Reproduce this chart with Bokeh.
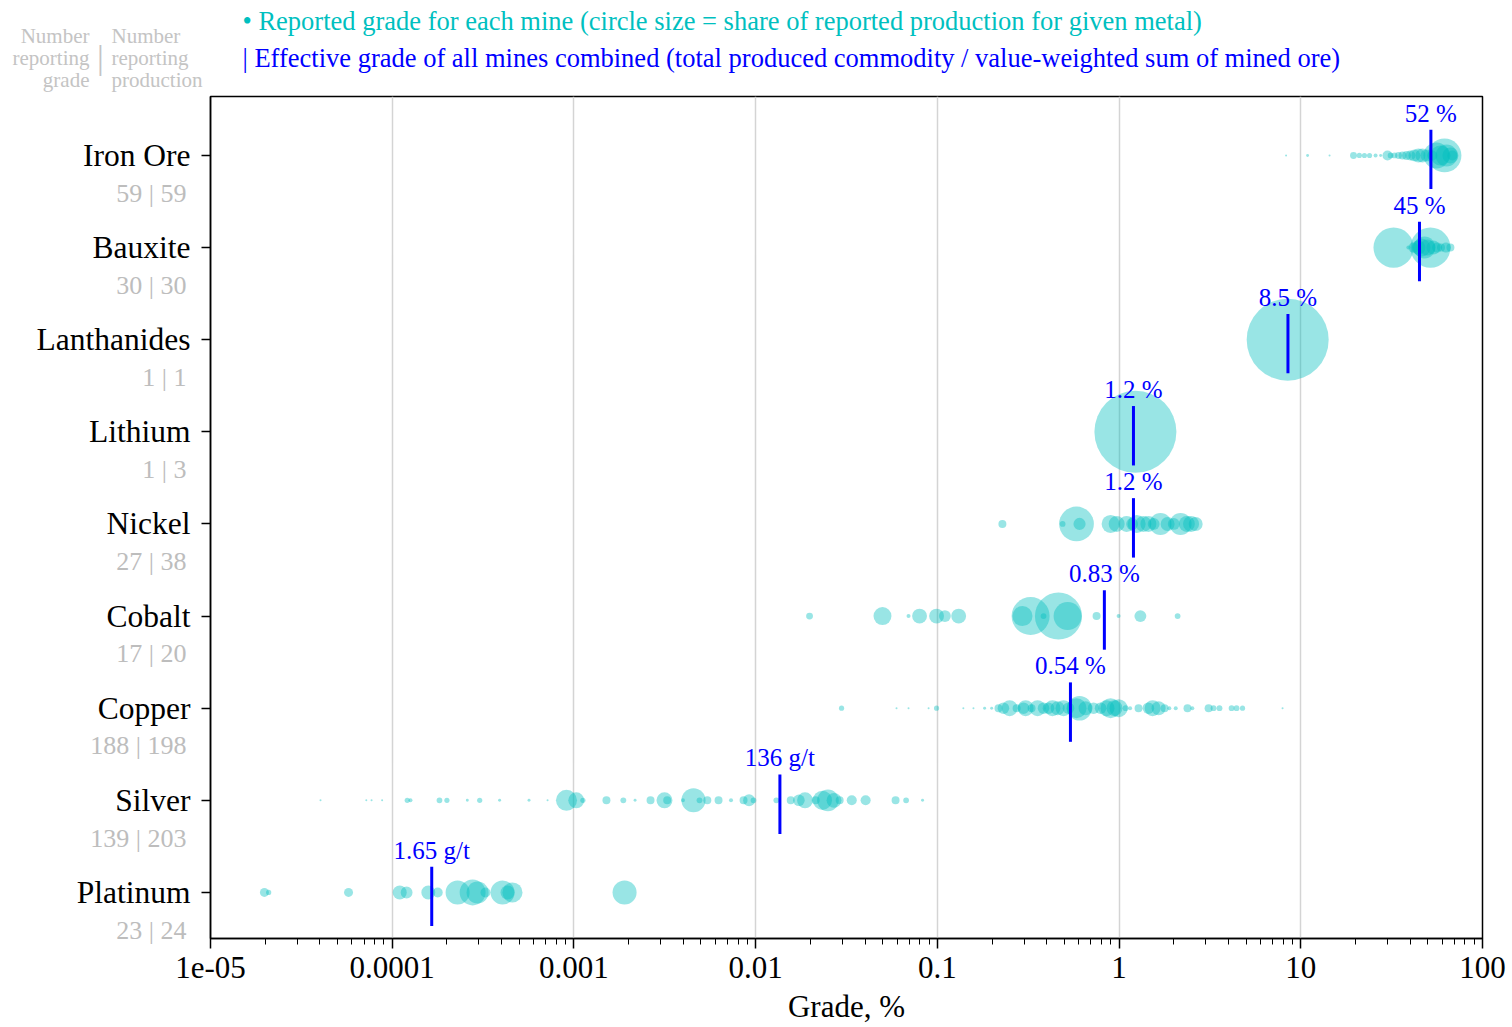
import numpy as np
from bokeh.plotting import figure
from bokeh.layouts import column, row
from bokeh.models import FixedTicker, ColumnDataSource, Range1d, LinearAxis
from bokeh.core.properties import value
from bokeh.embed import file_html
from bokeh.resources import INLINE

# ---------------- data ----------------
categories = ["Platinum", "Silver", "Copper", "Cobalt", "Nickel",
              "Lithium", "Lanthanides", "Bauxite", "Iron Ore"]
counts = ["23 | 24", "139 | 203", "188 | 198", "17 | 20", "27 | 38",
          "1 | 3", "1 | 1", "30 | 30", "59 | 59"]
effective_grade = [0.000165, 0.0136, 0.54, 0.83, 1.2, 1.2, 8.5, 45, 52]
effective_label = ["1.65 g/t", "136 g/t", "0.54 %", "0.83 %", "1.2 %",
                   "1.2 %", "8.5 %", "45 %", "52 %"]

# grade in %, share of reported production of the metal
iron_grade = [8.3, 10.9, 14.4, 19.5, 21.0, 22.4, 23.9, 25.8, 27.5, 30.0, 31.2, 32.8,
              34.5, 36.3, 38.2, 40.1, 42.2, 44.4, 46.7, 49.1, 53.0, 55.8, 58.7, 61.8,
              63.4, 66.6, 68.3]
iron_share = [0.0006, 0.0012, 0.0006, 0.007, 0.004, 0.004, 0.004, 0.0024, 0.0013, 0.015,
              0.005, 0.005, 0.007, 0.0095, 0.012, 0.015, 0.021, 0.029, 0.029, 0.021,
              0.015, 0.10, 0.06, 0.17, 0.072, 0.038, 0.015]

bauxite_grade = [32.4, 39.1, 41.7, 44.4, 46.1, 47.9, 49.7, 51.7, 53.7, 56.3, 59.1, 62.9, 66.6]
bauxite_share = [0.24, 0.0024, 0.015, 0.029, 0.048, 0.072, 0.038, 0.24, 0.029, 0.015,
                 0.0095, 0.015, 0.0095]

lanthanides_grade = [8.47]
lanthanides_share = [1.0]

lithium_grade = [1.23]
lithium_share = [1.0]

nickel_grade = [0.228, 0.489, 0.583, 0.606, 0.898, 0.97, 1.1, 1.18, 1.25, 1.36, 1.45,
                1.55, 1.69, 1.85, 2.0, 2.18, 2.36, 2.49, 2.64]
nickel_share = [0.0095, 0.005, 0.18, 0.022, 0.048, 0.038, 0.038, 0.021, 0.048, 0.038,
                0.038, 0.021, 0.072, 0.029, 0.021, 0.072, 0.038, 0.038, 0.029]

cobalt_grade = [0.0198, 0.0499, 0.0694, 0.0798, 0.099, 0.11, 0.131, 0.294, 0.326,
                0.384, 0.464, 0.521, 0.752, 0.994, 1.31, 2.1]
cobalt_share = [0.007, 0.048, 0.0024, 0.033, 0.033, 0.021, 0.033, 0.06, 0.215,
                0.005, 0.33, 0.117, 0.0095, 0.0024, 0.021, 0.005]

copper_grade = [0.0297, 0.0596, 0.0694, 0.0895, 0.099, 0.139, 0.158, 0.182, 0.199, 0.217,
                0.231, 0.25, 0.273, 0.298, 0.306, 0.33, 0.356, 0.384, 0.409, 0.43, 0.459,
                0.495, 0.527, 0.583, 0.606, 0.654, 0.724, 0.791, 0.853, 0.898, 0.944,
                0.994, 1.086, 1.15, 1.28, 1.45, 1.53, 1.65, 1.78, 1.89, 2.05, 2.38, 2.53,
                3.11, 3.31, 3.57, 4.16, 4.43, 4.78, 7.94]
copper_share = [0.004, 0.0006, 0.0006, 0.0006, 0.004, 0.0006, 0.0006, 0.0013, 0.0013,
                0.0095, 0.02, 0.038, 0.0095, 0.02, 0.038, 0.0095, 0.038, 0.02, 0.02,
                0.038, 0.029, 0.038, 0.02, 0.06, 0.09, 0.029, 0.02, 0.02, 0.038,
                0.06, 0.038, 0.048, 0.005, 0.0024, 0.0095, 0.02, 0.038, 0.029, 0.0095,
                0.0024, 0.0024, 0.0095, 0.0024, 0.0095, 0.005, 0.005, 0.005, 0.005,
                0.004, 0.0006]

silver_grade = [4.03e-5, 7.2e-5, 7.7e-5, 8.8e-5, 1.21e-4, 1.26e-4, 1.82e-4, 2.0e-4,
                2.59e-4, 3.03e-4, 3.9e-4, 5.66e-4, 7.16e-4, 9.1e-4, 1.03e-3, 1.12e-3,
                1.51e-3, 1.87e-3, 2.17e-3, 2.64e-3, 3.15e-3, 3.26e-3, 3.98e-3, 4.55e-3,
                4.91e-3, 5.42e-3, 6.25e-3, 7.32e-3, 8.58e-3, 9.2e-3, 9.73e-3, 1.30e-2,
                1.56e-2, 1.73e-2, 1.87e-2, 2.14e-2, 2.33e-2, 2.5e-2, 2.7e-2, 2.9e-2,
                3.38e-2, 4.03e-2, 5.89e-2, 6.73e-2, 8.29e-2]
silver_share = [0.0006, 0.0006, 0.0006, 0.0006, 0.004, 0.0024, 0.005, 0.004, 0.0013,
                0.004, 0.0013, 0.0013, 0.0006, 0.066, 0.038, 0.004, 0.0095, 0.005,
                0.0013, 0.0095, 0.038, 0.0095, 0.0024, 0.086, 0.005, 0.0095, 0.0095,
                0.0024, 0.0095, 0.021, 0.005, 0.005, 0.0095, 0.02, 0.038, 0.0095,
                0.055, 0.07, 0.033, 0.0095, 0.015, 0.015, 0.0095, 0.005, 0.0013]

platinum_grade = [1.98e-5, 2.09e-5, 5.75e-5, 1.10e-4, 1.2e-4, 1.58e-4, 1.78e-4, 2.29e-4,
                  2.77e-4, 2.95e-4, 3.26e-4, 4.05e-4, 4.31e-4, 4.59e-4, 1.9e-3]
platinum_share = [0.012, 0.004, 0.012, 0.029, 0.021, 0.029, 0.015, 0.086, 0.1, 0.072,
                  0.015, 0.086, 0.029, 0.06, 0.086]

grades = [platinum_grade, silver_grade, copper_grade, cobalt_grade, nickel_grade,
          lithium_grade, lanthanides_grade, bauxite_grade, iron_grade]
shares = [platinum_share, silver_share, copper_share, cobalt_share, nickel_share,
          lithium_share, lanthanides_share, bauxite_share, iron_share]

legend_dots = "\u2022 Reported grade for each mine (circle size = share of reported production for given metal)"
legend_line = "| Effective grade of all mines combined (total produced commodity / value-weighted sum of mined ore)"
header_left = ["Number", "reporting", "grade"]
header_right = ["Number", "reporting", "production"]

# ---------------- layout / styling ----------------
FONT = "Liberation Serif"
TEAL = "#00bfbf"
GRAY = "#c4c4c4"
MAX_D = 82                      # px diameter of a circle with share 1
XMIN, XMAX = 1e-5, 100
YMIN, YMAX = -0.5, 8.64
COUNT_DROP = 0.41               # counts sit this far (in rows) below the names
TOP_H = 95                      # height of the header strip
MAIN_H = 1027 - TOP_H


def bare(fig):
    fig.xaxis.visible = False
    fig.yaxis.visible = False
    fig.xgrid.visible = False
    fig.ygrid.visible = False
    fig.outline_line_color = None
    fig.background_fill_color = None
    fig.border_fill_color = None
    return fig


# ---------------- main plot ----------------
xs, ys, sz = [], [], []
for i, (g, s) in enumerate(zip(grades, shares)):
    xs += list(g)
    ys += [i] * len(g)
    sz += [MAX_D * np.sqrt(v) for v in s]
dots = ColumnDataSource(dict(x=xs, y=ys, size=sz))

idx = list(range(len(categories)))
eff = ColumnDataSource(dict(
    x=effective_grade,
    y0=[i - 0.365 for i in idx],
    y1=[i + 0.28 for i in idx],
    ty=[i + 0.46 for i in idx],
    label=effective_label,
))

p = figure(width=1512, height=MAIN_H, x_axis_type="log",
           x_range=Range1d(XMIN, XMAX), y_range=Range1d(YMIN, YMAX),
           output_backend="svg", toolbar_location=None,
           min_border_left=210, min_border_right=30,
           min_border_top=1, min_border_bottom=89)

p.scatter("x", "y", size="size", source=dots, fill_color=TEAL, fill_alpha=0.4,
          line_color=None)
p.segment(x0="x", y0="y0", x1="x", y1="y1", source=eff, line_color="blue",
          line_width=3)
p.text(x="x", y="ty", text="label", source=eff, text_font=value(FONT),
       text_font_size="25px", text_color="blue", text_align="center",
       text_baseline="alphabetic")

major = [1e-5, 1e-4, 1e-3, 1e-2, 1e-1, 1, 10, 100]
minor = [m * d for d in major[:-1] for m in range(2, 10)]
p.xaxis.ticker = FixedTicker(ticks=major, minor_ticks=minor)
p.xaxis.major_label_overrides = {1e-5: "1e-05", 1e-4: "0.0001", 1e-3: "0.001",
                                 1e-2: "0.01", 1e-1: "0.1", 1: "1", 10: "10", 100: "100"}
p.xaxis.axis_label = "Grade, %"
p.xaxis.axis_label_text_font = FONT
p.xaxis.axis_label_text_font_style = "normal"
p.xaxis.axis_label_text_font_size = "31px"
p.xaxis.axis_label_text_color = "black"
p.xaxis.axis_label_standoff = 8
p.xaxis.major_label_text_font = FONT
p.xaxis.major_label_text_font_size = "31px"
p.xaxis.major_label_text_color = "black"
p.xaxis.major_label_standoff = 8
p.xaxis.major_tick_out = 10
p.xaxis.major_tick_in = 0
p.xaxis.minor_tick_out = 6
p.xaxis.minor_tick_in = 0
p.xaxis.major_tick_line_width = 1.5
p.xaxis.axis_line_width = 1.5

# y axis with the category names
p.yaxis.ticker = FixedTicker(ticks=idx, minor_ticks=[])
p.yaxis.major_label_overrides = {i: c for i, c in enumerate(categories)}
p.yaxis.major_label_text_font = FONT
p.yaxis.major_label_text_font_size = "31.5px"
p.yaxis.major_label_text_color = "black"
p.yaxis.major_label_standoff = 11
p.yaxis.major_tick_out = 9
p.yaxis.major_tick_in = 0
p.yaxis.major_tick_line_width = 1.5
p.yaxis.axis_line_width = 1.5
p.yaxis.minor_tick_line_color = None

# second (outer) y axis carrying the gray counts, shifted below each name
p.extra_y_ranges = {"counts": Range1d(YMIN + COUNT_DROP, YMAX + COUNT_DROP)}
cax = LinearAxis(y_range_name="counts",
                 ticker=FixedTicker(ticks=idx, minor_ticks=[]),
                 major_label_overrides={i: c for i, c in enumerate(counts)},
                 major_label_text_font=FONT, major_label_text_font_size="26px",
                 major_label_text_color="#bdbdbd",
                 major_label_standoff=-153,
                 major_tick_out=0, major_tick_in=0,
                 major_tick_line_color=None, minor_tick_line_color=None,
                 axis_line_color=None)
p.add_layout(cax, "left")

p.ygrid.visible = False
p.xgrid.grid_line_color = "#d4d4d4"
p.xgrid.grid_line_width = 1.5
p.outline_line_color = "black"
p.outline_line_width = 1.5

# ---------------- header strip ----------------
top = bare(figure(width=1512, height=TOP_H, output_backend="svg",
                  toolbar_location=None, min_border=0,
                  x_range=Range1d(0, 1512), y_range=Range1d(TOP_H, 0)))
hl = ColumnDataSource(dict(x=[89] * 3, y=[35, 57, 79], text=header_left))
hr = ColumnDataSource(dict(x=[111] * 3, y=[35, 57, 79], text=header_right))
top.text(x="x", y="y", text="text", source=hl, text_font=value(FONT),
         text_font_size="21px", text_color=GRAY, text_align="right",
         text_baseline="middle")
top.text(x="x", y="y", text="text", source=hr, text_font=value(FONT),
         text_font_size="21px", text_color=GRAY, text_align="left",
         text_baseline="middle")
top.text(x=[100], y=[57], text=["|"], text_font=value(FONT),
         text_font_size="34px", text_color=GRAY, text_align="center",
         text_baseline="middle")
top.text(x=[242], y=[20], text=[legend_dots], text_font=value(FONT),
         text_font_size="26.5px", text_color=TEAL, text_align="left",
         text_baseline="middle")
top.text(x=[242], y=[57], text=[legend_line], text_font=value(FONT),
         text_font_size="26.5px", text_color="blue", text_align="left",
         text_baseline="middle")

layout = column(top, row(p, spacing=0), spacing=0)
open("out.html", "w").write(file_html(layout, INLINE))
